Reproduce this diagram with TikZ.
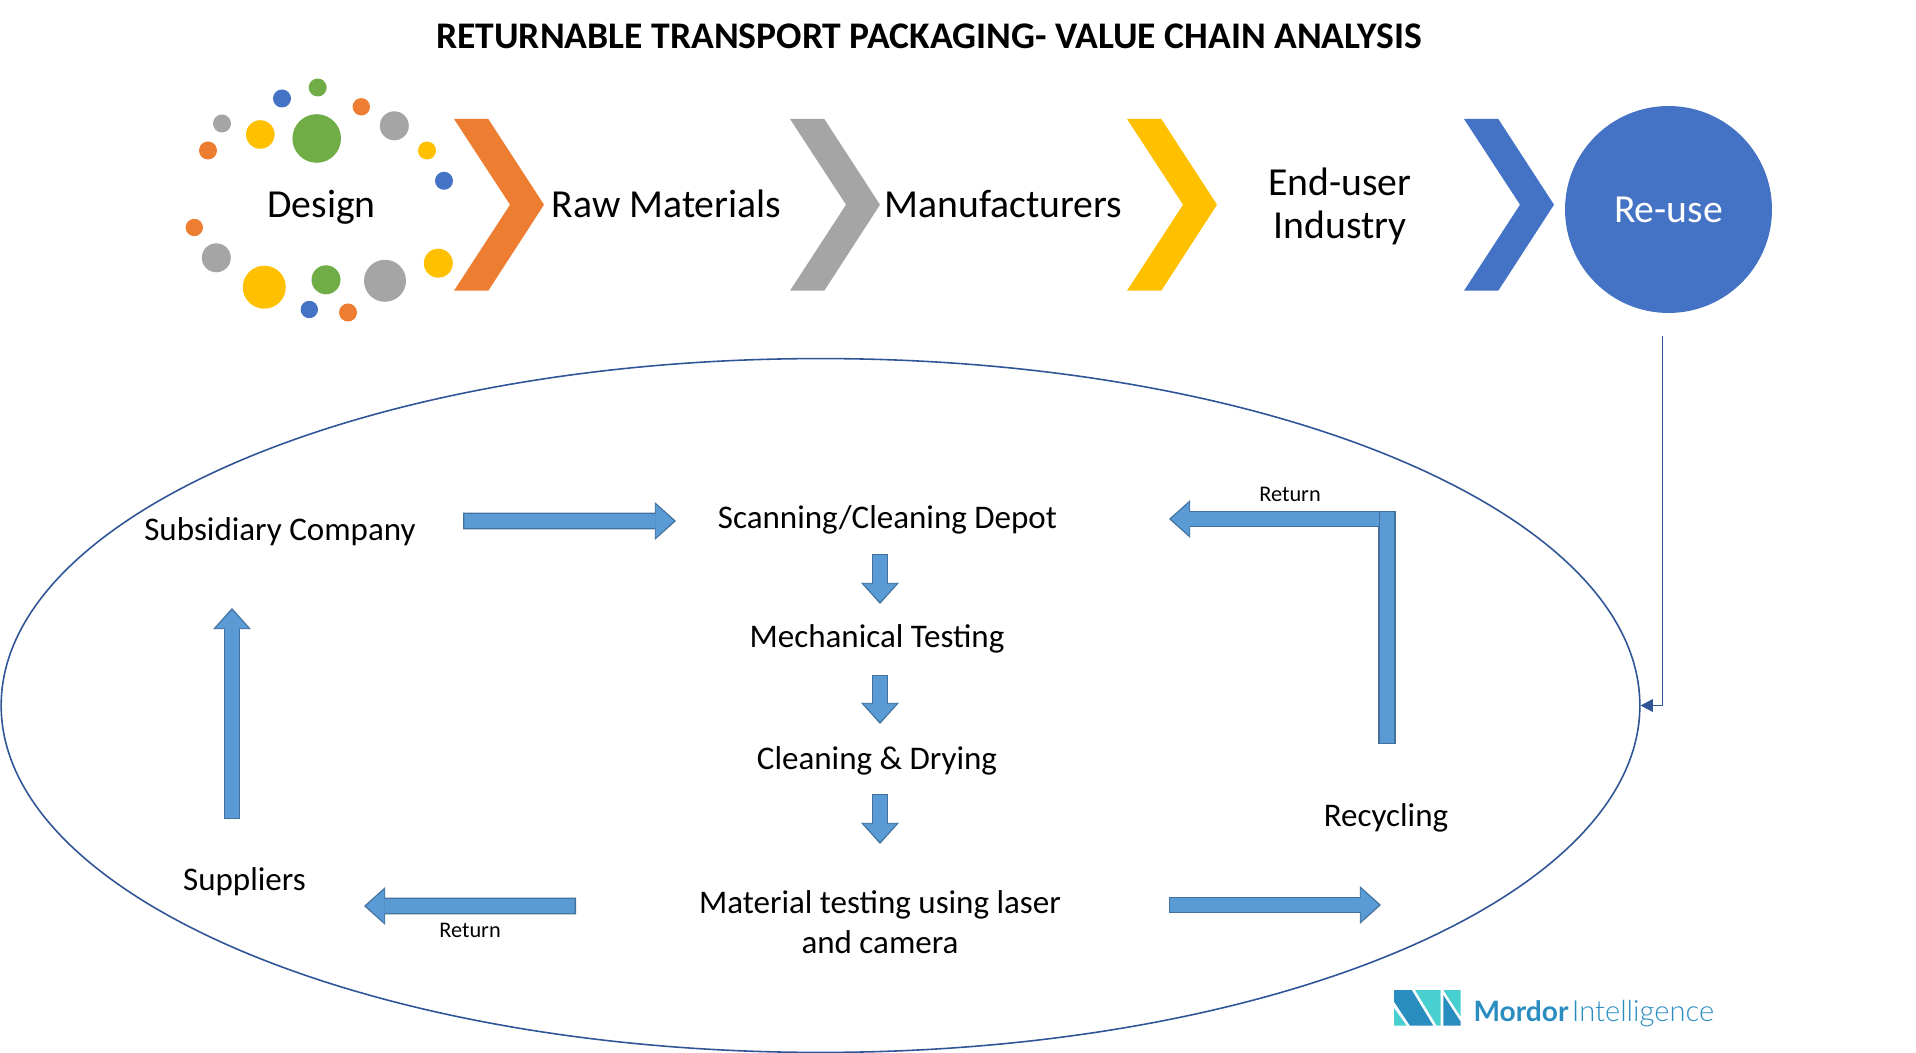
\documentclass[tikz,border=0pt]{standalone}
\usepackage{fontspec}
\setmainfont{Carlito}
\newfontfamily\logofont{Lato}
\newfontfamily\logolight{Lato Light}
\usetikzlibrary{shapes.geometric, arrows.meta}

\definecolor{orangeC}{HTML}{ED7D31}
\definecolor{grayC}{HTML}{A5A5A5}
\definecolor{yellowC}{HTML}{FFC000}
\definecolor{blueC}{HTML}{4472C4}
\definecolor{greenC}{HTML}{70AD47}
\definecolor{arrowC}{HTML}{5B9BD5}
\definecolor{edgeC}{HTML}{41719C}
\definecolor{ringC}{HTML}{2F5597}
\definecolor{logoB}{HTML}{2A8DC0}
\definecolor{logoT}{HTML}{48D0D0}

\begin{document}
\begin{tikzpicture}[
    x=0.02cm, y=-0.02cm,
    chain/.style={align=center, inner sep=0pt, font=\fontsize{22.6}{24}\selectfont},
    flowtext/.style={align=center, inner sep=0pt, font=\fontsize{18.8}{23}\selectfont},
    smalltext/.style={inner sep=0pt, font=\fontsize{12.7}{14}\selectfont},
    blockarrow/.style={
        preaction={draw=edgeC, line width=9.4pt, shorten >=0pt, shorten <=0pt,
            -{Triangle[width=21.5pt, length=12pt, line width=0pt]}},
        draw=arrowC, line width=7.8pt, shorten >=1.2pt, shorten <=0.8pt,
        -{Triangle[width=19pt, length=10.4pt, line width=0pt]}},
    barbox/.style={draw=edgeC, line width=0.9pt, fill=arrowC, minimum width=9pt, minimum height=132pt, inner sep=0pt},
    thinarrow/.style={draw=ringC, line width=0.7pt, -{Triangle[width=7.5pt, length=7pt, line width=0pt]}}
]
\useasboundingbox (0,0) rectangle (1916,1053);

\node[inner sep=0pt, font=\bfseries\fontsize{21.4}{24}\selectfont] (title) at (929,36) {RETURNABLE TRANSPORT PACKAGING- VALUE CHAIN ANALYSIS};

% dots round the first step
\foreach \px/\py/\r/\c in {
    316.7/138.5/24.3/greenC, 282/98.5/9/blueC, 317.7/87.5/9/greenC, 361.3/106.8/8.7/orangeC,
    394.3/125.8/14.5/grayC, 427/150.5/9/yellowC, 444/180.8/9/blueC, 222/123.5/9/grayC,
    208/150.5/9/orangeC, 260.3/134.5/14.3/yellowC, 194.3/227.5/8.7/orangeC, 216.3/257.8/14.5/grayC,
    264.3/287.2/21.5/yellowC, 326/279.8/14.5/greenC, 385/280.8/21/grayC, 438.3/263.2/14.5/yellowC,
    309.3/309.5/8.7/blueC, 348/312.5/9/orangeC}
    \fill[\c] (\px,\py) circle[radius=\r];

% chevrons
\foreach \dx/\c in {0/orangeC, 336/grayC, 673/yellowC, 1010/blueC}
    \fill[\c] (454+\dx,119) -- (488.3+\dx,119) -- (544+\dx,204.7) -- (488.3+\dx,290.7)
        -- (454+\dx,290.7) -- (510+\dx,204.7) -- cycle;

\node[chain] (design) at (321.5,207.5) {Design};
\node[chain] (raw) at (666.5,204) {Raw Materials};
\node[chain] (manuf) at (1003.5,204) {Manufacturers};
\node[chain] (enduser) at (1340,206.5) {End-user\\Industry};
\node[chain, circle, fill=blueC, text=white, minimum size=4.14cm] (reuse) at (1668.5,209.5) {Re-use};

\node[draw=ringC, line width=0.9pt, ellipse, inner sep=0pt, minimum width=32.78cm, minimum height=13.88cm] (loop) at (820.5,705.5) {};

\node[flowtext] (subsid) at (280,532) {Subsidiary Company};
\node[flowtext] (scan) at (887.5,519.5) {Scanning/Cleaning Depot};
\node[flowtext] (mech) at (877,639) {Mechanical Testing};
\node[flowtext] (clean) at (877,760.5) {Cleaning \& Drying};
\node[flowtext] (laser) at (880,922) {Material testing using laser\\and camera};
\node[flowtext] (recycle) at (1386,818) {Recycling};
\node[flowtext] (supply) at (244.5,881.5) {Suppliers};
\node[barbox] (bar) at (1387,627.5) {};

\draw[blockarrow] ([shift={(183,-11)}]subsid.center) -- ([shift={(-211.5,1.5)}]scan.center);
\draw[blockarrow] ([shift={(-7.5,34.5)}]scan.center) -- ([shift={(3,-35)}]mech.center);
\draw[blockarrow] ([shift={(3,36)}]mech.center) -- ([shift={(3,-36.5)}]clean.center);
\draw[blockarrow] ([shift={(3,33.5)}]clean.center) -- ([shift={(0,-78)}]laser.center);
\draw[blockarrow] ([shift={(289,-17)}]laser.center) -- ([shift={(-5,87)}]recycle.center);
\draw[blockarrow] ([shift={(-304,-16)}]laser.center) -- ([shift={(119.5,24.5)}]supply.center);
\draw[blockarrow] ([shift={(-12.5,-62.5)}]supply.center) -- ([shift={(-48,76)}]subsid.center);
\draw[blockarrow] ([shift={(-7,-108.5)}]bar.center) -- ([shift={(281.5,-0.5)}]scan.center);

\node[smalltext] (ret1) at (1290,494) {Return};
\node[smalltext] (ret2) at (470,930.5) {Return};

\coordinate (drop) at (1662.5,336);
\draw[thinarrow] (drop) |- (loop.east);

% logo
\fill[logoB] (1394,990) -- (1411.7,990) -- (1433.3,1025.7) -- (1410,1025.7) -- (1394,1001.7) -- cycle;
\fill[logoT] (1394,1008) -- (1406.7,1025.7) -- (1394,1025.7) -- cycle;
\fill[logoT] (1415,990) -- (1440.7,990) -- (1440.7,1025.7) -- (1436.7,1025.7) -- cycle;
\fill[logoT] (1443.3,990) -- (1460.7,990) -- (1460.7,1016.7) -- cycle;
\fill[logoB] (1443.3,995) -- (1460.7,1021.7) -- (1460.7,1025.7) -- (1443.3,1025.7) -- cycle;
\node[inner sep=0pt, text=logoB, font=\logofont\bfseries\fontsize{16}{18}\selectfont] (mordor) at (1521,1011.5) {Mordor};
\node[inner sep=0pt, text=logoB, font=\logolight\fontsize{16.6}{18}\selectfont, anchor=base west] (intel) at ([xshift=1.5pt]mordor.base east) {Intelligence};
\end{tikzpicture}
\end{document}
